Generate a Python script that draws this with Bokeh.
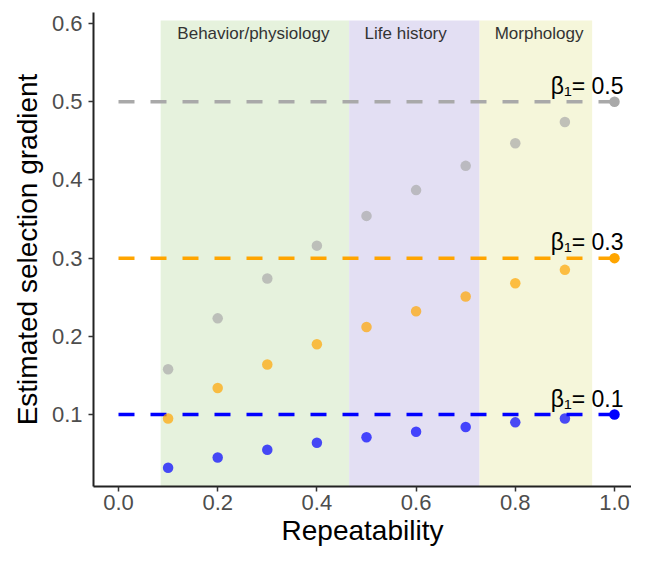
from bokeh.plotting import figure
from bokeh.models import Range1d, FixedTicker, PrintfTickFormatter
from bokeh.core.properties import value
from bokeh.embed import file_html
from bokeh.resources import INLINE

# ---- data ----
repeatability = [0.1, 0.2, 0.3, 0.4, 0.5, 0.6, 0.7, 0.8, 0.9]
est_beta_05 = [0.158, 0.223, 0.274, 0.316, 0.354, 0.387, 0.418, 0.447, 0.474]
est_beta_03 = [0.095, 0.134, 0.164, 0.190, 0.212, 0.232, 0.251, 0.268, 0.285]
est_beta_01 = [0.032, 0.045, 0.055, 0.064, 0.071, 0.078, 0.084, 0.090, 0.095]
true_betas = [0.5, 0.3, 0.1]
beta_labels = ["β₁= 0.5", "β₁= 0.3", "β₁= 0.1"]
series_colors = ["#a9a9a9", "#ffa500", "#0000ff"]

trait_categories = ["Behavior/physiology", "Life history", "Morphology"]
category_left = [0.085, 0.465, 0.728]
category_right = [0.465, 0.728, 0.955]
category_label_x = [0.272, 0.579, 0.848]
category_colors = ["#e6f2dd", "#e3dff3", "#f5f6da"]

x_ticks = [0.0, 0.2, 0.4, 0.6, 0.8, 1.0]
y_ticks = [0.1, 0.2, 0.3, 0.4, 0.5, 0.6]

FONT = "Liberation Sans"
Y_LO, Y_HI = 0.008, 0.6141

p = figure(width=631, height=548, output_backend="svg", toolbar_location=None,
           x_range=Range1d(-0.0504, 1.0343), y_range=Range1d(Y_LO, Y_HI),
           min_border_left=93, min_border_top=12, min_border_right=0, min_border_bottom=60)
p.outline_line_color = None
p.xgrid.visible = False
p.ygrid.visible = False
p.background_fill_color = "white"

# shaded trait regions
p.quad(left=category_left, right=category_right, bottom=[Y_LO] * 3, top=[0.604] * 3,
       fill_color=category_colors, line_color=None)
p.text(x=category_label_x, y=[0.587] * 3, text=trait_categories,
       text_font=value(FONT), text_align="center", text_baseline="middle",
       text_font_size="17px", text_color="#333333")

# dashed true-value lines
p.segment(x0=[0.0] * 3, x1=[1.0] * 3, y0=true_betas, y1=true_betas,
          line_color=series_colors, line_width=3.5, line_dash="16 16")

# estimated points
for est, col in zip([est_beta_05, est_beta_03, est_beta_01], series_colors):
    p.scatter(repeatability, est, size=10.5, fill_color=col, line_color=None, fill_alpha=0.7)

# true value points at R = 1
p.scatter([1.0] * 3, true_betas, size=10.5, fill_color=series_colors, line_color=None)

# beta labels
p.text(x=[1.0] * 3, y=true_betas, text=beta_labels, x_offset=9, y_offset=-3,
       text_font=value(FONT), text_align="right", text_baseline="bottom",
       text_font_size="23px", text_color="black")

# axes
for ax, ticks in ((p.xaxis, x_ticks), (p.yaxis, y_ticks)):
    ax.ticker = FixedTicker(ticks=ticks)
    ax.formatter = PrintfTickFormatter(format="%.1f")
    ax.minor_tick_line_color = None
    ax.major_tick_in = 0
    ax.major_tick_out = 5
    ax.major_tick_line_color = "#333333"
    ax.major_tick_line_width = 1.5
    ax.axis_line_color = "#222222"
    ax.axis_line_width = 2
    ax.major_label_text_font = FONT
    ax.major_label_text_font_size = "22px"
    ax.major_label_text_color = "#4d4d4d"
    ax.axis_label_text_font = FONT
    ax.axis_label_text_font_size = "28px"
    ax.axis_label_text_font_style = "normal"
    ax.axis_label_text_color = "black"

p.yaxis.major_label_standoff = 6
p.yaxis.axis_label_standoff = 6
p.xaxis.major_label_standoff = 3
p.xaxis.axis_label_standoff = 2

p.xaxis.axis_label = "Repeatability"
p.yaxis.axis_label = "Estimated selection gradient"

open("out.html", "w").write(file_html(p, INLINE))
